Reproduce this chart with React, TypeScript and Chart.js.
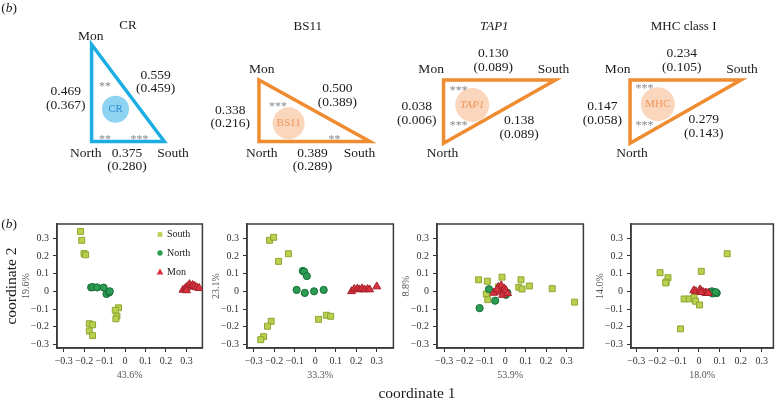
import { useEffect, useRef } from "react";
import { Chart, registerables } from "chart.js";
Chart.register(...registerables);

const FONT = "'Liberation Serif', 'Times New Roman', serif";
const TXT = "#1a1a1a";

// ---------- Top row: pairwise FST (lower CI) ----------
const genes = ["CR", "BS11", "TAP1", "MHC class I"];
const geneShort = ["CR", "BS11", "TAP1", "MHC"];
const pops = ["Mon", "North", "South"];
const fstMonNorth = ["0.469", "0.338", "0.038", "0.147"];
const ciMonNorth = ["(0.367)", "(0.216)", "(0.006)", "(0.058)"];
const fstMonSouth = ["0.559", "0.500", "0.130", "0.234"];
const ciMonSouth = ["(0.459)", "(0.389)", "(0.089)", "(0.105)"];
const fstNorthSouth = ["0.375", "0.389", "0.138", "0.279"];
const ciNorthSouth = ["(0.280)", "(0.289)", "(0.089)", "(0.143)"];
const sigMarks = [["**", "**", "***"], ["***", "**"], ["***", "***"], ["***", "***"]];

// ---------- Bottom row: PCoA coordinates ----------
const pctX = ["43.6%", "33.3%", "53.9%", "18.0%"];
const pctY = ["19.6%", "23.1%", "8.8%", "14.0%"];
const tickVals = [-0.3, -0.2, -0.1, 0, 0.1, 0.2, 0.3];

const southX1 = [-0.218, -0.212, -0.201, -0.193, -0.032, -0.048, -0.04, -0.045, -0.175, -0.159, -0.175, -0.159];
const southY1 = [0.338, 0.288, 0.213, 0.206, -0.093, -0.107, -0.14, -0.155, -0.183, -0.189, -0.224, -0.25];
const northX1 = [-0.166, -0.158, -0.137, -0.105, -0.091, -0.078, -0.075];
const northY1 = [0.022, 0.024, 0.022, 0.021, -0.015, -0.006, 0.0];
const monX1 = [0.283, 0.295, 0.305, 0.315, 0.322, 0.33, 0.34, 0.35, 0.362, 0.3];
const monY1 = [0.008, 0.018, 0.028, 0.04, 0.025, 0.035, 0.03, 0.022, 0.018, 0.005];

const southX2 = [-0.223, -0.203, -0.179, -0.131, -0.215, -0.233, -0.252, -0.266, 0.016, 0.054, 0.075];
const southY2 = [0.288, 0.305, 0.169, 0.212, -0.169, -0.197, -0.256, -0.273, -0.158, -0.135, -0.141];
const northX2 = [-0.061, -0.054, -0.041, -0.091, -0.051, -0.006, 0.041];
const northY2 = [0.115, 0.111, 0.086, 0.008, -0.009, 0.0, 0.008];
const monX2 = [0.177, 0.19, 0.205, 0.215, 0.228, 0.24, 0.255, 0.265, 0.3];
const monY2 = [0.0, 0.013, 0.015, 0.01, 0.016, 0.01, 0.012, 0.01, 0.027];

const southX3 = [-0.131, -0.088, -0.016, -0.034, -0.093, -0.086, 0.077, 0.066, 0.082, 0.118, 0.23, 0.34];
const southY3 = [0.065, 0.057, 0.08, 0.025, -0.015, -0.047, 0.065, 0.023, 0.013, 0.03, 0.015, -0.061];
const northX3 = [-0.126, -0.08, -0.05, -0.013, 0.003, 0.01];
const northY3 = [-0.095, 0.012, -0.053, 0.015, -0.02, -0.008];
const monX3 = [-0.057, -0.034, -0.027, -0.02, -0.013, -0.005, 0.003, 0.011, -0.04];
const monY3 = [-0.009, 0.024, -0.003, 0.033, -0.021, 0.015, 0.006, -0.011, 0.01];

const southX4 = [0.135, 0.011, -0.186, -0.148, -0.157, -0.159, -0.071, -0.046, -0.024, -0.016, 0.003, -0.088];
const southY4 = [0.212, 0.113, 0.105, 0.077, 0.053, 0.047, -0.043, -0.043, -0.034, -0.056, -0.077, -0.212];
const northX4 = [0.055, 0.062, 0.07, 0.078, 0.085, 0.065, 0.08];
const northY4 = [-0.005, 0.0, -0.01, -0.008, -0.01, -0.012, -0.005];
const monX4 = [-0.025, -0.015, 0.005, 0.012, 0.02, 0.03, 0.037, 0.045, 0.01];
const monY4 = [0.005, 0.0, 0.01, 0.0, -0.005, -0.008, -0.01, -0.01, -0.005];

const southXs = [southX1, southX2, southX3, southX4];
const southYs = [southY1, southY2, southY3, southY4];
const northXs = [northX1, northX2, northX3, northX4];
const northYs = [northY1, northY2, northY3, northY4];
const monXs = [monX1, monX2, monX3, monX4];
const monYs = [monY1, monY2, monY3, monY4];

// ---------- Layout (positions / styles) ----------
type Pt = { x: number; y: number };
const CYAN = "rgb(28,174,226)";
const ORANGE = "rgb(239,139,48)";
const tri = [
  {
    title: { x: 116, y: 10 }, mon: { x: 77, y: 23 }, north: { x: 72, y: 164 }, south: { x: 163, y: 164 },
    v: [{ x: 78, y: 33 }, { x: 78, y: 150 }, { x: 154, y: 150 }],
    eMN: { x: 51, y: 90 }, eMS: { x: 145, y: 70 }, eNS: { x: 115, y: 164 },
    sig: [{ x: 92, y: 81 }, { x: 92, y: 145 }, { x: 128, y: 145 }],
    circle: { x: 103, y: 111 }, r: 13.5, color: CYAN, fill: "rgb(142,211,242)", textColor: "rgb(40,140,210)", csize: 10.5,
  },
  {
    title: { x: 304, y: 12 }, mon: { x: 256, y: 63 }, north: { x: 256, y: 164 }, south: { x: 358, y: 164 },
    v: [{ x: 253, y: 76 }, { x: 253, y: 150 }, { x: 369, y: 150 }],
    eMN: { x: 223, y: 112 }, eMS: { x: 335, y: 86 }, eNS: { x: 309, y: 164 },
    sig: [{ x: 273, y: 105 }, { x: 332, y: 145 }],
    circle: { x: 284, y: 128 }, r: 16, color: ORANGE, fill: "rgb(250,214,188)", textColor: "rgb(240,150,90)", csize: 11,
  },
  {
    title: { x: 499, y: 12 }, mon: { x: 433, y: 63 }, north: { x: 445, y: 164 }, south: { x: 561, y: 63 },
    v: [{ x: 446, y: 76 }, { x: 446, y: 152 }, { x: 563, y: 76 }],
    eMN: { x: 418, y: 108 }, eMS: { x: 498, y: 44 }, eNS: { x: 525, y: 125 },
    sig: [{ x: 462, y: 86 }, { x: 462, y: 128 }],
    circle: { x: 476, y: 106 }, r: 17, color: ORANGE, fill: "rgb(250,214,188)", textColor: "rgb(240,150,90)", csize: 11,
  },
  {
    title: { x: 697, y: 12 }, mon: { x: 628, y: 63 }, north: { x: 643, y: 164 }, south: { x: 758, y: 63 },
    v: [{ x: 641, y: 76 }, { x: 641, y: 152 }, { x: 757, y: 76 }],
    eMN: { x: 612, y: 108 }, eMS: { x: 695, y: 44 }, eNS: { x: 718, y: 124 },
    sig: [{ x: 656, y: 83 }, { x: 656, y: 128 }],
    circle: { x: 670, y: 105 }, r: 17, color: ORANGE, fill: "rgb(250,214,188)", textColor: "rgb(240,150,90)", csize: 11,
  },
];

const frameL = [57, 247, 437, 631];
const frameR = [204, 395, 585, 775];
const xMin = [-0.333, -0.333, -0.335, -0.325];
const xMax = [0.378, 0.381, 0.383, 0.356];
const yMin = -0.32;
const yMax = 0.38;
const AXW = 50;
const PADT = 10;
const PLOTH = 124;
const XAXH = 40;
const CANVAS_TOP = 214;

const styles = {
  South: { pointStyle: "rect", pointRadius: 4.2, backgroundColor: "rgb(187,208,78)", borderColor: "rgb(140,166,48)", order: 3 },
  North: { pointStyle: "circle", pointRadius: 3.6, backgroundColor: "rgb(44,156,82)", borderColor: "rgb(22,110,56)", order: 2 },
  Mon: { pointStyle: "triangle", pointRadius: 4.6, backgroundColor: "rgb(216,52,63)", borderColor: "rgb(165,31,42)", order: 1 },
};

const fmt = (v: number) => {
  if (Math.abs(v) < 1e-9) return "0";
  return v < 0 ? "\u2212" + Math.abs(v).toFixed(1) : v.toFixed(1);
};

const framePlugin = {
  id: "frame",
  beforeDatasetsDraw(chart: any) {
    const { ctx, chartArea: a } = chart;
    ctx.save();
    ctx.strokeStyle = "#3a3a3a";
    ctx.lineWidth = 1.5;
    ctx.strokeRect(a.left, a.top, a.right - a.left, a.bottom - a.top);
    ctx.restore();
  },
};

const legendPlugin = {
  id: "insideLegend",
  afterDatasetsDraw(chart: any) {
    const { ctx, chartArea: a } = chart;
    const mx = a.left + 103;
    const rows = [a.top + 10.5, a.top + 29, a.top + 48];
    ctx.save();
    chart.data.datasets.forEach((ds: any, k: number) => {
      const y = rows[k];
      ctx.fillStyle = ds.backgroundColor;
      ctx.beginPath();
      if (ds.pointStyle === "rect") ctx.rect(mx - 2.3, y - 2.3, 4.6, 4.6);
      else if (ds.pointStyle === "circle") ctx.arc(mx, y, 2.7, 0, Math.PI * 2);
      else {
        ctx.moveTo(mx, y - 3.4);
        ctx.lineTo(mx + 3.4, y + 2.4);
        ctx.lineTo(mx - 3.4, y + 2.4);
        ctx.closePath();
      }
      ctx.fill();
      ctx.font = `10px ${FONT}`;
      ctx.fillStyle = TXT;
      ctx.textAlign = "left";
      ctx.textBaseline = "middle";
      ctx.fillText(ds.label, mx + 7, y);
    });
    ctx.restore();
  },
};

function scatterConfig(i: number): any {
  const pts = (xs: number[], ys: number[]) => xs.map((x, k) => ({ x, y: ys[k] }));
  const mk = (label: "South" | "North" | "Mon", xs: number[], ys: number[]) => ({
    label,
    data: pts(xs, ys),
    borderWidth: 1,
    ...styles[label],
  });
  const axisCommon = {
    type: "linear",
    afterBuildTicks: (s: any) => {
      s.ticks = tickVals.map((v) => ({ value: v }));
    },
    grid: { drawOnChartArea: false, drawTicks: true, tickLength: 4, color: "#333", lineWidth: 1 },
    border: { display: true, color: "#3a3a3a", width: 1.5 },
  };
  return {
    type: "scatter",
    data: {
      datasets: [
        mk("South", southXs[i], southYs[i]),
        mk("North", northXs[i], northYs[i]),
        mk("Mon", monXs[i], monYs[i]),
      ],
    },
    options: {
      responsive: false,
      maintainAspectRatio: false,
      animation: false,
      layout: { padding: { left: 0, right: 4, top: PADT, bottom: 0 } },
      plugins: { legend: { display: false }, tooltip: { enabled: false } },
      scales: {
        x: {
          ...axisCommon,
          min: xMin[i],
          max: xMax[i],
          afterFit: (s: any) => {
            s.height = XAXH;
          },
          ticks: { callback: (v: number) => fmt(v), font: { family: FONT, size: 10 }, color: "#333", padding: 3, maxRotation: 0, autoSkip: false },
          title: { display: true, text: pctX[i], font: { family: FONT, size: 10 }, color: "#555", padding: { top: 0, bottom: 7 } },
        },
        y: {
          ...axisCommon,
          min: yMin,
          max: yMax,
          afterFit: (s: any) => {
            s.width = AXW;
          },
          ticks: { callback: (v: number) => fmt(v), font: { family: FONT, size: 10 }, color: "#333", padding: 4, autoSkip: false },
          title: { display: true, text: pctY[i], font: { family: FONT, size: 10 }, color: "#555", padding: { top: 13, bottom: 0 } },
        },
      },
    },
    plugins: i === 0 ? [framePlugin, legendPlugin] : [framePlugin],
  };
}

function ScatterPanel({ i }: { i: number }) {
  const ref = useRef<HTMLCanvasElement>(null);
  const w = AXW + (frameR[i] - frameL[i]) + 4;
  const h = PADT + PLOTH + XAXH;
  useEffect(() => {
    const chart = new Chart(ref.current as HTMLCanvasElement, scatterConfig(i));
    return () => chart.destroy();
  }, [i]);
  return (
    <canvas
      ref={ref}
      width={w}
      height={h}
      style={{ position: "absolute", left: frameL[i] - AXW, top: CANVAS_TOP, width: w, height: h }}
    />
  );
}

const topTextPlugin = {
  id: "topText",
  afterDatasetsDraw(chart: any) {
    const ctx = chart.ctx;
    const xs = chart.scales.x;
    const ys = chart.scales.y;
    const put = (text: string, p: Pt, size: number, color: string, italic = false, dy = 0) => {
      if (!text) return;
      ctx.font = `${italic ? "italic " : ""}${size}px ${FONT}`;
      ctx.fillStyle = color;
      ctx.textAlign = "center";
      ctx.textBaseline = "middle";
      ctx.fillText(text, xs.getPixelForValue(p.x), ys.getPixelForValue(p.y + dy));
    };
    ctx.save();
    tri.forEach((L, i) => {
      put(genes[i], L.title, 13, TXT, i === 2);
      put(pops[0], L.mon, 13.5, TXT);
      put(pops[1], L.north, 13.5, TXT);
      put(pops[2], L.south, 13.5, TXT);
      put(fstMonNorth[i], L.eMN, 13.5, TXT);
      put(ciMonNorth[i], L.eMN, 13.5, TXT, false, 16.5);
      put(fstMonSouth[i], L.eMS, 13.5, TXT);
      put(ciMonSouth[i], L.eMS, 13.5, TXT, false, 16.5);
      put(fstNorthSouth[i], L.eNS, 13.5, TXT);
      put(ciNorthSouth[i], L.eNS, 13.5, TXT, false, 16.5);
      L.sig.forEach((p, k) => put(sigMarks[i][k], p, 12, "#8a8a8a", false, 3));
      put(geneShort[i], L.circle, L.csize, L.textColor, i === 2);
    });
    ctx.restore();
  },
};

function TopDiagram() {
  const ref = useRef<HTMLCanvasElement>(null);
  useEffect(() => {
    const datasets: any[] = [];
    tri.forEach((L) => {
      datasets.push({
        data: [L.v[0], L.v[1], L.v[2], L.v[0], L.v[1]],
        showLine: true,
        borderColor: L.color,
        borderWidth: 3.5,
        borderJoinStyle: "miter",
        pointRadius: 0,
        fill: false,
      });
      datasets.push({
        data: [L.circle],
        pointRadius: L.r,
        backgroundColor: L.fill,
        borderWidth: 0,
        pointStyle: "circle",
      });
    });
    const chart = new Chart(ref.current as HTMLCanvasElement, {
      type: "scatter",
      data: { datasets },
      options: {
        responsive: false,
        maintainAspectRatio: false,
        animation: false,
        layout: { padding: 0 },
        plugins: { legend: { display: false }, tooltip: { enabled: false } },
        scales: {
          x: { type: "linear", min: 0, max: 780, display: false },
          y: { type: "linear", min: 0, max: 200, reverse: true, display: false },
        },
      } as any,
      plugins: [topTextPlugin],
    } as any);
    return () => chart.destroy();
  }, []);
  return <canvas ref={ref} width={780} height={200} style={{ position: "absolute", left: 0, top: 0, width: 780, height: 200 }} />;
}

const abs = (x: number, y: number, extra: any = {}): any => ({
  position: "absolute",
  left: x,
  top: y,
  transform: "translate(-50%, -50%)",
  whiteSpace: "nowrap",
  lineHeight: 1,
  fontFamily: FONT,
  color: TXT,
  ...extra,
});

export default function App() {
  return (
    <div style={{ position: "absolute", left: 0, top: 0, width: 780, height: 401, background: "#fff", overflow: "hidden" }}>
      <TopDiagram />
      {[0, 1, 2, 3].map((i) => (
        <ScatterPanel key={i} i={i} />
      ))}
      <div style={abs(9, 8, { fontSize: 13.5 })}>
        (<i>b</i>)
      </div>
      <div style={abs(9, 224, { fontSize: 13.5 })}>
        (<i>b</i>)
      </div>
      <div style={abs(11, 286, { fontSize: 15.5, transform: "translate(-50%, -50%) rotate(-90deg)" })}>coordinate 2</div>
      <div style={abs(417, 393, { fontSize: 15.5 })}>coordinate 1</div>
    </div>
  );
}
